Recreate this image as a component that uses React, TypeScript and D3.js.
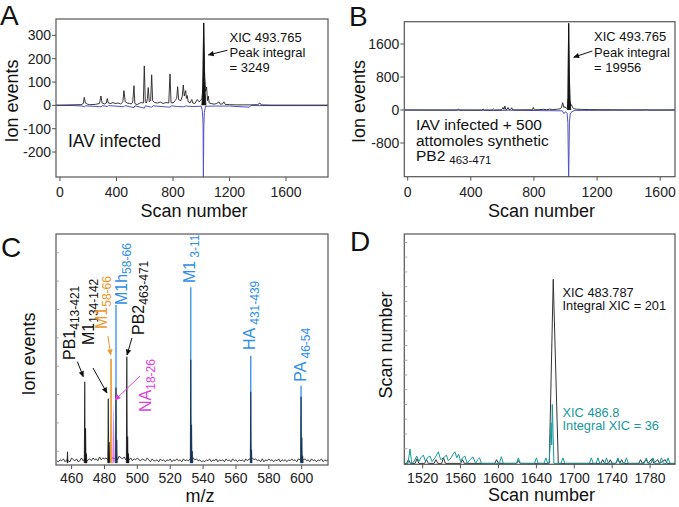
import React from 'react';
import * as d3 from 'd3';

type P = [number, number];
const FONT = '"Liberation Sans", Arial, Helvetica, sans-serif';

// ---------------- Panel A data ----------------
const aXTicks = [0, 400, 800, 1200, 1600];
const aYTicks = [300, 200, 100, 0, -100, -200];
const aBlack: P[] = [
  [-28, 1], [0, 1], [150, 3], [165, 8], [172, 34], [180, 10], [195, 5], [210, 3], [250, 4], [280, 8], [290, 40], [298, 10],
  [315, 6], [328, 10], [335, 29], [342, 10], [360, 8], [375, 12], [390, 8], [410, 10], [430, 6], [445, 15], [453, 63],
  [462, 15], [475, 10], [490, 8], [505, 6], [515, 14], [524, 84], [530, 8], [545, 3], [560, 8], [575, 12], [590, 10],
  [597, 169], [604, 15], [612, 10], [619, 30], [625, 76], [632, 15], [642, 20], [649, 131], [656, 20], [670, 12],
  [690, 10], [710, 14], [730, 8], [750, 12], [770, 10], [779, 135], [786, 12], [800, 10], [815, 20], [826, 30],
  [833, 80], [840, 25], [855, 20], [866, 40], [873, 87], [880, 40], [890, 63], [895, 30], [900, 42], [908, 15],
  [920, 10], [933, 25], [940, 10], [955, 8], [972, 25], [985, 15], [995, 20], [1005, 30], [1012, 80], [1017, 353],
  [1024, 120], [1030, 60], [1038, 78], [1044, 20], [1050, 40], [1056, 10], [1070, 8], [1090, 5], [1110, 8],
  [1126, 15], [1135, 5], [1150, 6], [1160, 15], [1170, 4], [1200, 3], [1250, 2], [1300, 2], [1350, 2], [1400, 3],
  [1415, 10], [1425, 2], [1500, 1], [1600, 1], [1700, 1], [1897, 1],
];
const aPeak: P[] = [[1004, 0], [1009, 40], [1013, 150], [1017, 353], [1020, 240], [1024, 120], [1028, 55], [1033, 0]];
const aBlue: P[] = [
  [-28, 0], [100, -1], [165, -3], [172, -8], [180, -2], [290, -6], [300, -1], [335, -5], [345, -1], [453, -6],
  [460, -1], [524, -10], [530, -2], [597, -12], [605, -2], [649, -8], [660, -2], [779, -8], [790, -2], [833, -5],
  [873, -6], [890, -3], [940, -5], [1000, -4], [1008, -25], [1013, -80], [1015, -320], [1018, -90], [1022, -30],
  [1030, -4], [1100, -3], [1200, -3], [1340, -8], [1350, -1], [1897, -1],
];

// ---------------- Panel B data ----------------
const bXTicks = [0, 400, 800, 1200, 1600];
const bYTicks = [1600, 800, 0, -800];
const bBlack: P[] = [
  [-21, 0], [300, 0], [315, 4], [321, 25], [327, 0], [470, 0], [479, 20], [485, 0], [535, 0], [543, 25], [550, 0],
  [595, 5], [604, 60], [610, 15], [616, 97], [622, 10], [630, 20], [636, 60], [642, 10], [652, 15], [659, 55],
  [665, 5], [700, 3], [750, 5], [790, 5], [796, 65], [802, 5], [830, 10], [860, 15], [880, 8], [900, 20], [920, 10],
  [950, 20], [965, 30], [975, 60], [982, 177], [990, 60], [997, 80], [1005, 40], [1012, 60], [1016, 300],
  [1020, 2100], [1024, 900], [1028, 250], [1033, 100], [1038, 130], [1045, 60], [1055, 30], [1070, 20], [1100, 15],
  [1150, 10], [1200, 8], [1300, 5], [1400, 3], [1510, 3], [1514, 20], [1518, 0], [1694, 0],
];
const bPeak: P[] = [[1012, 0], [1016, 300], [1020, 2100], [1024, 900], [1028, 250], [1033, 0]];
const bBlue: P[] = [
  [-21, 0], [600, -10], [640, -5], [980, -20], [990, -90], [1000, -40], [1010, -80], [1015, -300], [1020, -1700],
  [1025, -300], [1030, -100], [1040, -40], [1060, -10], [1694, 0],
];

// ---------------- Panel C data ----------------
const cXTicks = [460, 480, 500, 520, 540, 560, 580, 600];
const cNoiseStart = 451;
const cNoise =
  '2132413215' + '3241252413' + '4253426354' + '5364546375' + '4636352435' + '3243253142' + '2314231324' +
  '1324231423' + '2435342312' + '1324132413' + '2314231423' + '1323142435' + '3423141324' + '2313241323' +
  '1324231435' + '3423142313' + '241323';
const cBlackPeaks: P[] = [
  [457.5, 4.8], [468.0, 35.4], [468.5, 15], [469.0, 4], [482.3, 28], [482.8, 9], [493.6, 46.3], [494.1, 11.4], [494.6, 4],
];
const cBluePeaks: P[] = [
  [487.0, 32.8], [487.5, 10], [532.5, 45], [533.0, 16.6], [533.5, 5], [569.0, 31], [569.5, 5.7], [599.6, 28.9],
  [600.1, 11], [600.6, 3],
];
const cBlueLeaders: P[] = [[487.0, 69], [532.5, 76.7], [569.0, 46.8], [599.6, 33.7]];
const cOrange: P = [484.0, 45.5];
const cPink: P = [485.5, 26.7];

// ---------------- Panel D data ----------------
const dTickValues = [1520, 1560, 1600, 1640, 1680, 1720, 1760];
const dTickLabels = ['1520', '1560', '1600', '1640', '1700', '1740', '1780'];
const dBlack: P[] = [
  [1500.6, 0], [1503, 0], [1505, 2], [1507, 0], [1512, 0], [1514, 2.5], [1516, 0], [1522, 0], [1524, 2], [1526, 0],
  [1532, 0], [1534, 2], [1536, 0], [1540, 0], [1542, 3], [1544, 0], [1560, 0], [1562, 2], [1564, 0], [1596, 0],
  [1598, 2], [1600, 0], [1619, 0], [1621, 1.5], [1623, 0], [1653.6, 0], [1657.8, 100], [1663.1, 0], [1708, 0],
  [1710, 2], [1712, 0], [1716, 0], [1718, 2], [1720, 0], [1724, 0], [1726, 2.5], [1728, 0], [1730, 2], [1732, 0],
  [1748, 0], [1750, 2], [1752, 0], [1756, 2], [1758, 0], [1762, 2.5], [1764, 0], [1768, 2], [1770, 0], [1776, 2],
  [1778, 0], [1786.3, 0],
];
const dTeal: P[] = [
  [1500.6, 0], [1504.5, 0], [1506.6, 7.8], [1508.5, 0], [1511, 1], [1513.7, 4], [1516, 1], [1518, 3], [1520.7, 4.5],
  [1523, 1], [1525, 3], [1527.7, 4], [1530, 1], [1533, 3], [1536.5, 6.3], [1539, 2], [1542, 3], [1545, 4.5],
  [1547, 1.5], [1550, 3], [1552, 5], [1554, 6.3], [1556, 3], [1558, 5], [1560, 1], [1562, 3], [1564.6, 4],
  [1567, 0], [1570, 2], [1573, 3.5], [1576, 0], [1578, 2], [1580, 3], [1582, 0], [1601, 0], [1603, 3.6], [1605, 0],
  [1619, 0], [1621, 3], [1623, 0], [1638, 0], [1640, 3], [1642, 0], [1648, 0], [1650, 3], [1652, 0], [1653.5, 0],
  [1655.5, 22], [1656.2, 10], [1656.8, 32], [1658.5, 0], [1666, 0], [1668, 3], [1670, 0], [1696, 0], [1698, 3],
  [1700, 0], [1703, 0], [1705, 3], [1707, 0], [1712, 0], [1714, 3], [1716, 0], [1724, 0], [1726, 3], [1728, 0],
  [1733, 0], [1735, 3], [1737, 0], [1754, 0], [1756, 3], [1758, 0], [1761, 0], [1763, 3], [1765, 0], [1770, 0],
  [1772, 3], [1774, 0], [1777, 0], [1779, 3], [1781, 0], [1786.3, 0],
];

// ---------------- layout ----------------
const AX = { x0: 56, x1: 328, y0: 19, y1: 177 };
const BX = { x0: 404.3, x1: 675, y0: 21.7, y1: 176.7 };
const CX = { x0: 56, x1: 328, y0: 234, y1: 465 };
const DX = { x0: 404.3, x1: 675, y0: 234, y1: 464.3 };

const FRAME = '#555';
const BLUE_TRACE = '#5050c8';
const C_BLUE = '#2f8fe8';
const C_NAVY = '#17304f';
const C_ORANGE = '#f0962a';
const C_PINK = '#e03fe0';
const TEAL = '#17999b';

const Frame = ({ b }: { b: typeof AX }) => (
  <rect x={b.x0} y={b.y0} width={b.x1 - b.x0} height={b.y1 - b.y0} fill="none" stroke={FRAME} strokeWidth={1.2} />
);

function XAxis({ scale, ticks, labels, b, labelY }: any) {
  return (
    <g>
      {ticks.map((t: number, i: number) => (
        <g key={i}>
          <line x1={scale(t)} x2={scale(t)} y1={b.y1} y2={b.y1 + 4} stroke={FRAME} strokeWidth={1} />
          <text x={scale(t)} y={labelY} textAnchor="middle" fontSize={14} fill="#222">
            {labels ? labels[i] : String(t)}
          </text>
        </g>
      ))}
    </g>
  );
}

function YAxis({ scale, ticks, b }: any) {
  return (
    <g>
      {ticks.map((t: number, i: number) => (
        <g key={i}>
          <line x1={b.x0 - 4} x2={b.x0} y1={scale(t)} y2={scale(t)} stroke={FRAME} strokeWidth={1} />
          <text x={b.x0 - 5} y={scale(t) + 5} textAnchor="end" fontSize={14} fill="#222">
            {String(t)}
          </text>
        </g>
      ))}
    </g>
  );
}

const VText = ({ x, y, children, size = 18 }: any) => (
  <text transform={`translate(${x},${y}) rotate(-90)`} textAnchor="middle" fontSize={size} fill="#111">
    {children}
  </text>
);

export default function App() {
  const ax = d3.scaleLinear().domain([-28, 1897]).range([AX.x0, AX.x1]);
  const ay = d3.scaleLinear().domain([-307, 370]).range([AX.y1, AX.y0]);
  const bx = d3.scaleLinear().domain([-21.5, 1694]).range([BX.x0, BX.x1]);
  const by = d3.scaleLinear().domain([-1617, 2141]).range([BX.y1, BX.y0]);
  const cx = d3.scaleLinear().domain([450.5, 616]).range([CX.x0, CX.x1]);
  const cy = d3.scaleLinear().domain([-1, 100]).range([CX.y1, CX.y0]);
  const dx = d3.scaleLinear().domain([1500.6, 1786.3]).range([DX.x0, DX.x1]);
  const dy = d3.scaleLinear().domain([-0.5, 124.6]).range([DX.y1, DX.y0]);

  const lineA = d3.line<P>().x((d) => ax(d[0])).y((d) => ay(d[1]));
  const lineB = d3.line<P>().x((d) => bx(d[0])).y((d) => by(d[1]));
  const lineC = d3.line<P>().x((d) => cx(d[0])).y((d) => cy(d[1]));
  const lineD = d3.line<P>().x((d) => dx(d[0])).y((d) => dy(d[1]));

  const noisePts: P[] = cNoise.split('').map((ch, i) => [cNoiseStart + i, +ch * 0.42] as P);
  const tri = (p: P, w: number): P[] => [[p[0] - w, 0], [p[0], p[1]], [p[0] + w, 0]];

  const arrowA = [[1185, 236], [1050, 216]] as P[];
  const arrowB = [[1170, 1430], [1052, 1280]] as P[];

  const cArrows: { pts: P[]; color: string; id: string }[] = [
    { pts: [[463.5, 44.2], [467.1, 37.6]], color: '#111', id: 'mk' },
    { pts: [[473.0, 41.4], [481.5, 30.5]], color: '#111', id: 'mk' },
    { pts: [[482.1, 55.4], [483.8, 47.1]], color: C_ORANGE, id: 'mo' },
    { pts: [[501.6, 37.9], [486.4, 27.4]], color: C_PINK, id: 'mp' },
    { pts: [[496.7, 54.5], [493.7, 47.1]], color: '#111', id: 'mk' },
  ];

  const cLabels = [
    { x: 74.5, y: 360, main: 'PB1', sub: '413-421', gap: 0, color: '#111' },
    { x: 94.3, y: 345, main: 'M1', sub: '134-142', gap: 0, color: '#111' },
    { x: 106.5, y: 329, main: 'M1', sub: '58-66', gap: 0, color: C_ORANGE },
    { x: 126.5, y: 305, main: 'M1h', sub: '58-66', gap: 0, color: C_BLUE },
    { x: 144, y: 335, main: 'PB2', sub: '463-471', gap: 0, color: '#111' },
    { x: 150.5, y: 412, main: 'NA', sub: '18-26', gap: 0, color: C_PINK },
    { x: 195, y: 283, main: 'M1', sub: '3-11', gap: 3, color: C_BLUE },
    { x: 255, y: 350, main: 'HA', sub: '431-439', gap: 3, color: C_BLUE },
    { x: 306, y: 381.7, main: 'PA', sub: '46-54', gap: 3, color: C_BLUE },
  ];

  const clip = (id: string, b: typeof AX) => (
    <clipPath id={id}>
      <rect x={b.x0} y={b.y0} width={b.x1 - b.x0} height={b.y1 - b.y0} />
    </clipPath>
  );

  return (
    <svg
      width={679}
      height={507}
      viewBox="0 0 679 507"
      style={{ position: 'absolute', left: 0, top: 0, background: '#fff' }}
      fontFamily={FONT}
    >
      <defs>
        {clip('cA', AX)}
        {clip('cB', BX)}
        {clip('cC', CX)}
        {clip('cD', DX)}
        {[
          ['mk', '#111'],
          ['mo', C_ORANGE],
          ['mp', C_PINK],
        ].map(([id, col]) => (
          <marker key={id} id={id} viewBox="0 0 10 10" refX="9" refY="5" markerWidth="7" markerHeight="6" orient="auto">
            <path d="M0,0.5L10,5L0,9.5z" fill={col} />
          </marker>
        ))}
      </defs>
      <rect x={0} y={0} width={679} height={507} fill="#fff" />

      {/* ---------------- Panel A ---------------- */}
      <text x={0} y={25} fontSize={28} fill="#111">A</text>
      <g clipPath="url(#cA)">
        <path d={lineA(aBlue) || ''} fill="none" stroke={BLUE_TRACE} strokeWidth={1} />
        <path d={lineA(aBlack) || ''} fill="none" stroke="#222" strokeWidth={0.9} />
        <path d={lineA(aPeak) || ''} fill="#111" stroke="#111" strokeWidth={0.8} />
      </g>
      <Frame b={AX} />
      <XAxis scale={ax} ticks={aXTicks} b={AX} labelY={196.5} />
      <YAxis scale={ay} ticks={aYTicks} b={AX} />
      <text x={194} y={216.5} textAnchor="middle" fontSize={18} fill="#111">Scan number</text>
      <VText x={18} y={101}>Ion events</VText>
      <text x={68} y={146.5} fontSize={17.5} fill="#111">IAV infected</text>
      <g fontSize={13} fill="#111">
        <text x={229.5} y={41.5}>XIC 493.765</text>
        <text x={229.5} y={56.5}>Peak integral</text>
        <text x={229.5} y={71.5}>= 3249</text>
      </g>
      <line x1={ax(arrowA[0][0])} y1={ay(arrowA[0][1])} x2={ax(arrowA[1][0])} y2={ay(arrowA[1][1])} stroke="#111" strokeWidth={1} markerEnd="url(#mk)" />

      {/* ---------------- Panel B ---------------- */}
      <text x={349} y={26} fontSize={28} fill="#111">B</text>
      <g clipPath="url(#cB)">
        <path d={lineB(bBlue) || ''} fill="none" stroke={BLUE_TRACE} strokeWidth={1} />
        <path d={lineB(bBlack) || ''} fill="none" stroke="#222" strokeWidth={0.9} />
        <path d={lineB(bPeak) || ''} fill="#111" stroke="#111" strokeWidth={0.8} />
      </g>
      <Frame b={BX} />
      <XAxis scale={bx} ticks={bXTicks} b={BX} labelY={196.5} />
      <YAxis scale={by} ticks={bYTicks} b={BX} />
      <text x={541.5} y={216.5} textAnchor="middle" fontSize={18} fill="#111">Scan number</text>
      <VText x={365} y={101.5}>Ion events</VText>
      <g fontSize={15.5} fill="#111">
        <text x={416} y={130}>IAV infected + 500</text>
        <text x={416} y={145.5}>attomoles synthetic</text>
        <text x={416} y={160.5}>
          PB2
          <tspan dx={4} dy={3} fontSize={11.5}>463-471</tspan>
        </text>
      </g>
      <g fontSize={13} fill="#111">
        <text x={594} y={41}>XIC 493.765</text>
        <text x={594} y={56.5}>Peak integral</text>
        <text x={594} y={71.5}>= 19956</text>
      </g>
      <line x1={bx(arrowB[0][0])} y1={by(arrowB[0][1])} x2={bx(arrowB[1][0])} y2={by(arrowB[1][1])} stroke="#111" strokeWidth={1} markerEnd="url(#mk)" />

      {/* ---------------- Panel C ---------------- */}
      <text x={1} y={257} fontSize={28} fill="#111">C</text>
      <g clipPath="url(#cC)">
        <path d={lineC(noisePts) || ''} fill="none" stroke="#111" strokeWidth={0.8} />
        {cBlueLeaders.map((p, i) => (
          <line key={i} x1={cx(p[0])} x2={cx(p[0])} y1={cy(0)} y2={cy(p[1])} stroke={C_BLUE} strokeWidth={1.3} />
        ))}
        <line x1={cx(cOrange[0])} x2={cx(cOrange[0])} y1={cy(0)} y2={cy(cOrange[1])} stroke={C_ORANGE} strokeWidth={1.6} />
        <path d={(lineC(tri([cOrange[0] - 0.3, cOrange[1] * 0.4], 0.6)) || '') + 'Z'} fill={C_ORANGE} />
        <path d={(lineC(tri(cPink, 0.8)) || '') + 'Z'} fill={C_PINK} fillOpacity={0.7} />
        {cBlackPeaks.map((p, i) => (
          <path key={i} d={(lineC(tri(p, 0.3)) || '') + 'Z'} fill="#111" stroke="#111" strokeWidth={0.7} />
        ))}
        {cBluePeaks.map((p, i) => (
          <path key={i} d={(lineC(tri(p, 0.3)) || '') + 'Z'} fill={C_NAVY} stroke={C_NAVY} strokeWidth={0.7} />
        ))}
      </g>
      <Frame b={CX} />
      {d3.range(5, 100, 12.4).map((v, i) => (
        <line key={i} x1={CX.x0} x2={CX.x0 + 3} y1={cy(v)} y2={cy(v)} stroke="#999" strokeWidth={0.8} />
      ))}
      <XAxis scale={cx} ticks={cXTicks} b={CX} labelY={483.3} />
      <text x={200} y={502} textAnchor="middle" fontSize={18} fill="#111">m/z</text>
      <VText x={35} y={354}>Ion events</VText>
      {cArrows.map((a, i) => (
        <line key={i} x1={cx(a.pts[0][0])} y1={cy(a.pts[0][1])} x2={cx(a.pts[1][0])} y2={cy(a.pts[1][1])} stroke={a.color} strokeWidth={1} markerEnd={`url(#${a.id})`} />
      ))}
      {cLabels.map((l, i) => (
        <text key={i} transform={`translate(${l.x},${l.y}) rotate(-90)`} fontSize={16} fill={l.color}>
          {l.main}
          <tspan dx={l.gap} dy={4} fontSize={12}>{l.sub}</tspan>
        </text>
      ))}

      {/* ---------------- Panel D ---------------- */}
      <text x={350} y={251} fontSize={28} fill="#111">D</text>
      <g clipPath="url(#cD)">
        <path d={lineD(dBlack) || ''} fill="none" stroke="#333" strokeWidth={1} />
        <path d={lineD(dTeal) || ''} fill="none" stroke={TEAL} strokeWidth={1} />
      </g>
      <Frame b={DX} />
      {d3.range(8, 124, 8).map((v, i) => (
        <line key={i} x1={DX.x0} x2={DX.x0 + 3} y1={dy(v)} y2={dy(v)} stroke="#999" strokeWidth={0.8} />
      ))}
      <XAxis scale={dx} ticks={dTickValues} labels={dTickLabels} b={DX} labelY={483.3} />
      <text x={541.5} y={500.5} textAnchor="middle" fontSize={18} fill="#111">Scan number</text>
      <VText x={392} y={345}>Scan number</VText>
      <g fontSize={12.8}>
        <text x={562.5} y={296.5} fill="#111">XIC 483.787</text>
        <text x={562.5} y={310} fill="#111">Integral XIC = 201</text>
        <text x={562.5} y={416.5} fill={TEAL}>XIC 486.8</text>
        <text x={562.5} y={430} fill={TEAL}>Integral XIC = 36</text>
      </g>
    </svg>
  );
}
